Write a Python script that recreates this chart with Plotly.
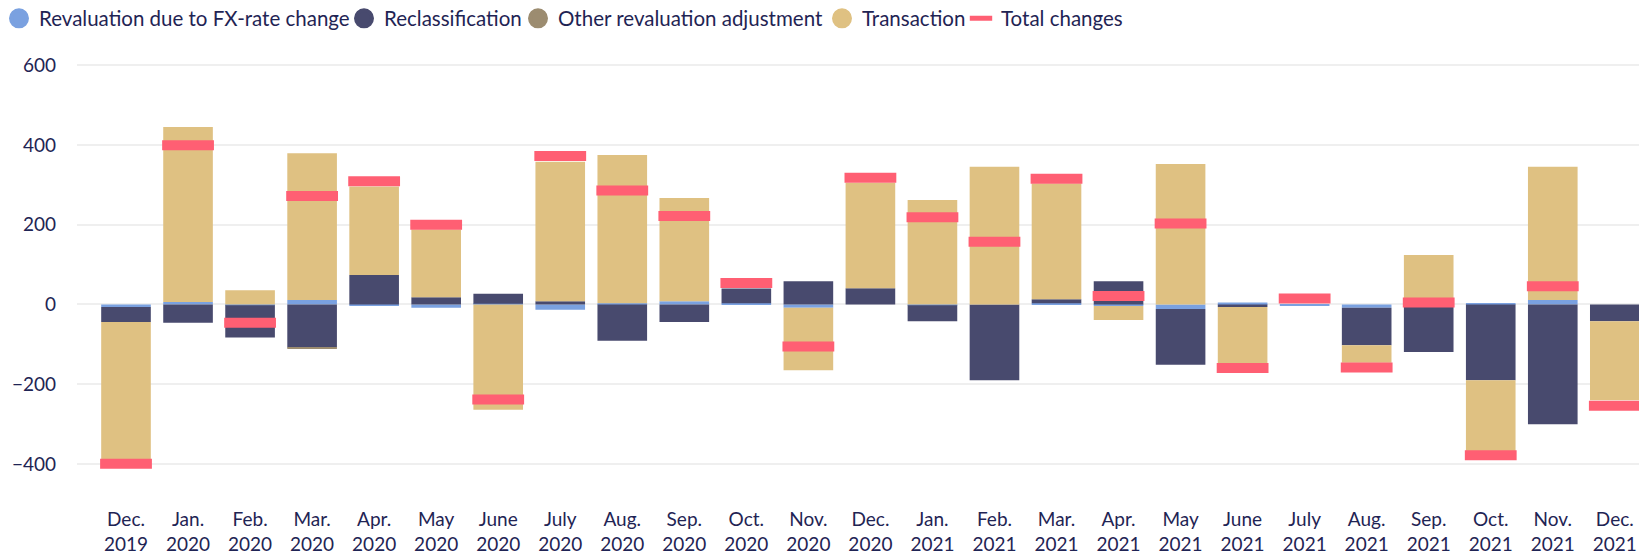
import plotly.graph_objects as go

# Monthly change components (EUR millions)
months = [
    "Dec.<br>2019", "Jan.<br>2020", "Feb.<br>2020", "Mar.<br>2020", "Apr.<br>2020",
    "May<br>2020", "June<br>2020", "July<br>2020", "Aug.<br>2020", "Sep.<br>2020",
    "Oct.<br>2020", "Nov.<br>2020", "Dec.<br>2020", "Jan.<br>2021", "Feb.<br>2021",
    "Mar.<br>2021", "Apr.<br>2021", "May<br>2021", "June<br>2021", "July<br>2021",
    "Aug.<br>2021", "Sep.<br>2021", "Oct.<br>2021", "Nov.<br>2021", "Dec.<br>2021",
]
fx_revaluation = [-6, 6, -2, 11, -3, -8, 2, -13, 3, 8, 3, -8, 0, -2, 0, 3, -4, -11, 5, -2, -8, 0, 2, 11, 0]
reclassification = [-38, -46, -81, -108, 74, 18, 25, 8, -91, -44, 37, 58, 41, -40, -190, 10, 58, -140, -6, 0, -94, -119, -190, -300, -42]
other_revaluation = [0, 0, 0, -2, 0, 0, 0, 0, 0, 0, 0, 0, 0, 0, 0, 0, 0, 0, 0, 0, 0, 0, 0, 0, 0]
transaction = [-355, 439, 36, 368, 222, 170, -264, 350, 372, 259, 0, -157, 264, 262, 345, 290, -35, 352, -142, 0, -44, 124, -188, 334, -198]
total_changes = [-399, 399, -46, 272, 309, 200, -238, 372, 286, 222, 54, -105, 318, 219, 157, 315, 21, 203, -159, 15, -158, 5, -378, 46, -254]

series = [
    ("Revaluation due to FX-rate change", fx_revaluation, "#7aa1e0"),
    ("Reclassification", reclassification, "#484a6e"),
    ("Other revaluation adjustment", other_revaluation, "#9c8c70"),
    ("Transaction", transaction, "#dfc182"),
]
TOTAL_COLOR = "#ff5f73"

TEXT = "#1f2454"
FONT = "Lato"

# one small legend per entry so entries sit close together
legend_ids = ["legend", "legend2", "legend3", "legend4", "legend5"]
legend_left_px = [-1, 344, 518, 822, 961]

fig = go.Figure()
for (name, vals, color), lid in zip(series, legend_ids):
    fig.add_trace(go.Bar(
        x=months, y=vals, name=name, marker=dict(color=color, line=dict(width=0)),
        legendgroup=name, showlegend=False,
    ))
    # round legend swatch
    fig.add_trace(go.Scatter(
        x=[None], y=[None], mode="markers", name=name, legendgroup=name, legend=lid,
        marker=dict(symbol="circle", size=16, color=color, line=dict(color=color, width=4)),
    ))

# total change shown as a short thick bar across each column
fig.add_trace(go.Scatter(
    x=months, y=total_changes, name="Total changes", mode="markers", legend=legend_ids[4],
    marker=dict(symbol="line-ew", size=37, color=TOTAL_COLOR,
                line=dict(color=TOTAL_COLOR, width=10)),
))

margin_l, plot_w = 77, 1639 - 77
legends = {}
for lid, px in zip(legend_ids, legend_left_px):
    legends[lid] = dict(
        orientation="h", x=(px - margin_l) / plot_w, xanchor="left",
        y=1.058, yanchor="middle", font=dict(size=20.5, color=TEXT),
        itemwidth=30, bgcolor="rgba(0,0,0,0)",
    )

fig.update_layout(
    width=1639, height=558,
    margin=dict(l=margin_l, r=0, t=44, b=74, autoexpand=False),
    barmode="relative", bargap=0.2,
    plot_bgcolor="white", paper_bgcolor="white",
    font=dict(family=FONT, color=TEXT, size=19),
    xaxis=dict(range=[-0.79, 24.39], showgrid=False, zeroline=False, showline=False,
               ticks="", tickfont=dict(size=19, color=TEXT), ticklabelstandoff=22),
    yaxis=dict(range=[-450, 653], tickvals=[-400, -200, 0, 200, 400, 600],
               showgrid=True, gridcolor="#efefef", gridwidth=2,
               zeroline=False, showline=False, ticks="",
               tickfont=dict(size=19, color=TEXT), ticklabelstandoff=20),
    **legends,
)

fig.write_html("out.html")
